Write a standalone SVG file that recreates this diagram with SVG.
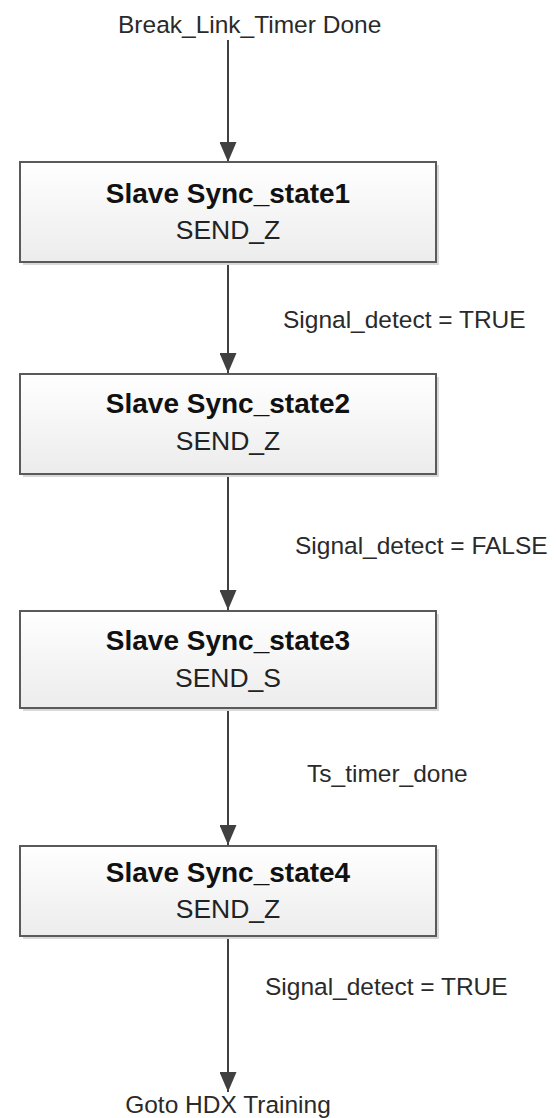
<svg xmlns="http://www.w3.org/2000/svg" width="556" height="1118" viewBox="0 0 556 1118">
<defs>
<linearGradient id="boxFill" x1="0" y1="0" x2="0" y2="1">
<stop offset="0" stop-color="#ffffff"/>
<stop offset="1" stop-color="#ececec"/>
</linearGradient>
<marker id="arrow" viewBox="0 0 20 17" refX="20" refY="8.5" markerWidth="20" markerHeight="17" markerUnits="userSpaceOnUse" orient="auto">
<path d="M0,0 L20,8.5 L0,17 Z" fill="#404040"/>
</marker>
<style>
.box{fill:url(#boxFill);stroke:#5a5a5a;stroke-width:2}
.shadow{fill:#d9d9d9}
.title{font-family:"Liberation Sans",Arial,sans-serif;font-weight:bold;font-size:28px;fill:#111111;text-anchor:middle}
.sub{font-family:"Liberation Sans",Arial,sans-serif;font-size:26.5px;fill:#222222;text-anchor:middle}
.lbl{font-family:"Liberation Sans",Arial,sans-serif;font-size:24.5px;fill:#2a2a2a}
.conn{stroke:#404040;stroke-width:2;fill:none}
</style>
</defs>
<rect width="556" height="1118" fill="#ffffff"/>
<g id="connectors">
<line class="conn" x1="228" y1="40" x2="228" y2="162" marker-end="url(#arrow)"/>
<line class="conn" x1="228" y1="262" x2="228" y2="373" marker-end="url(#arrow)"/>
<line class="conn" x1="228" y1="474" x2="228" y2="610" marker-end="url(#arrow)"/>
<line class="conn" x1="228" y1="708" x2="228" y2="845" marker-end="url(#arrow)"/>
<line class="conn" x1="228" y1="936" x2="228" y2="1092" marker-end="url(#arrow)"/>
</g>
<g id="labels">
<text class="lbl" x="118" y="33">Break_Link_Timer Done</text>
<text class="lbl" x="283" y="328">Signal_detect = TRUE</text>
<text class="lbl" x="295" y="554">Signal_detect = FALSE</text>
<text class="lbl" x="307" y="782">Ts_timer_done</text>
<text class="lbl" x="265" y="995">Signal_detect = TRUE</text>
<text class="lbl" x="228" y="1113" text-anchor="middle">Goto HDX Training</text>
</g>
<g id="state1">
<rect class="shadow" x="23" y="165" width="416" height="100"/>
<rect class="box" x="20" y="162" width="416" height="100"/>
<text class="title" x="228" y="203">Slave Sync_state1</text>
<text class="sub" x="228" y="239">SEND_Z</text>
</g>
<g id="state2">
<rect class="shadow" x="23" y="377" width="416" height="100"/>
<rect class="box" x="20" y="374" width="416" height="100"/>
<text class="title" x="228" y="413">Slave Sync_state2</text>
<text class="sub" x="228" y="450">SEND_Z</text>
</g>
<g id="state3">
<rect class="shadow" x="23" y="614" width="416" height="97"/>
<rect class="box" x="20" y="611" width="416" height="97"/>
<text class="title" x="228" y="650">Slave Sync_state3</text>
<text class="sub" x="228" y="687">SEND_S</text>
</g>
<g id="state4">
<rect class="shadow" x="23" y="849" width="416" height="90"/>
<rect class="box" x="20" y="846" width="416" height="90"/>
<text class="title" x="228" y="882">Slave Sync_state4</text>
<text class="sub" x="228" y="918">SEND_Z</text>
</g>
</svg>
